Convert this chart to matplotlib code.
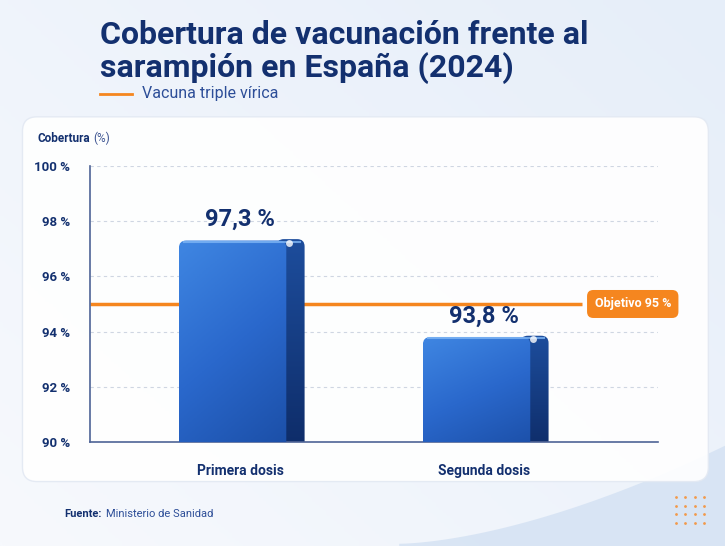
import numpy as np
import matplotlib
matplotlib.use("Agg")
import matplotlib.pyplot as plt
from matplotlib.patches import FancyBboxPatch

plt.rcParams['font.family'] = ['Roboto', 'DejaVu Sans']

# data
categories = ["Primera dosis", "Segunda dosis"]
coverage = [97.3, 93.8]
value_labels = ["97,3 %", "93,8 %"]
target = 95
target_label = "Objetivo 95 %"
yticks = [90, 92, 94, 96, 98, 100]
ytick_labels = ["90 %", "92 %", "94 %", "96 %", "98 %", "100 %"]

navy = "#13306f"
orange = "#f5861f"
axis_col = "#4e6496"

fig = plt.figure(figsize=(7.25, 5.46), dpi=100)

# background
bg = fig.add_axes([0, 0, 1, 1], zorder=-10)
bg.set_xlim(0, 1)
bg.set_ylim(0, 1)
bg.axis("off")
GX, GY = np.meshgrid(np.linspace(0, 1, 200), np.linspace(0, 1, 200))
grad = 0.55 * GX + 0.45 * (1 - GY)
cmap = matplotlib.colors.LinearSegmentedColormap.from_list("bg", ["#f7f9fd", "#e6eef9"])
bg.imshow(grad, extent=[0, 1, 0, 1], origin="upper", cmap=cmap, aspect="auto")
# bottom-right swoosh
sx = np.linspace(0.55, 1, 50)
bg.fill_between(sx, 0, 0.005 + 0.18 * ((sx - 0.55) / 0.45) ** 1.6, color="#d3e1f3", alpha=0.8, lw=0)
# white card
card = FancyBboxPatch((0.031, 0.118), 0.946, 0.668,
                      boxstyle="round,pad=0,rounding_size=0.02",
                      mutation_aspect=725 / 546,
                      fc="white", ec="#e3e9f3", lw=1, alpha=0.92)
bg.add_patch(card)
# orange dots decoration
for i in range(4):
    for j in range(4):
        bg.scatter(0.933 + i * 0.0125, 0.09 - j * 0.016, s=4, color="#f2994a", lw=0)

# titles
fig.text(0.138, 0.936, "Cobertura de vacunación frente al", fontsize=23, fontweight="bold",
         color=navy, va="center", ha="left")
fig.text(0.138, 0.875, "sarampión en España (2024)", fontsize=23, fontweight="bold",
         color=navy, va="center", ha="left")
fig.add_artist(plt.Line2D([0.138, 0.182], [0.828, 0.828], color=orange, lw=2, transform=fig.transFigure))
fig.text(0.196, 0.828, "Vacuna triple vírica", fontsize=11.5, color="#2d4e98", va="center", ha="left")

fig.text(0.052, 0.747, "Cobertura", fontsize=8.5, fontweight="bold", color=navy, va="center", ha="left")
fig.text(0.129, 0.747, "(%)", fontsize=8.5, color="#3e5592", va="center", ha="left")

fig.text(0.088, 0.059, "Fuente:", fontsize=8, fontweight="bold", color=navy, va="center", ha="left")
fig.text(0.146, 0.059, "Ministerio de Sanidad", fontsize=8, color="#2d4e98", va="center", ha="left")

# main chart
ax = fig.add_axes([0.124, 0.1905, 0.7834, 0.5055])
ax.set_xlim(-0.615, 1.713)
ax.set_ylim(90, 100)
ax.patch.set_alpha(0)
for s in ["top", "right"]:
    ax.spines[s].set_visible(False)
for s in ["left", "bottom"]:
    ax.spines[s].set_color(axis_col)
    ax.spines[s].set_linewidth(1.2)
ax.set_yticks(yticks)
ax.set_yticklabels(ytick_labels, fontsize=9.5, fontweight="bold", color=navy)
ax.tick_params(axis="y", length=0, pad=14)
ax.set_xticks(range(len(categories)))
ax.set_xticklabels(categories, fontsize=10, fontweight="bold", color=navy)
ax.tick_params(axis="x", length=0, pad=16)
for t in yticks[1:]:
    ax.axhline(t, color="#cfd6e2", lw=0.8, ls=(0, (3, 3)), zorder=0)

aspect = (10 / 276) / (2.328 / 568)
front_cmap = matplotlib.colors.LinearSegmentedColormap.from_list("fr", ["#1b4ea6", "#2a68cc", "#3f86e2"])
side_cmap = matplotlib.colors.LinearSegmentedColormap.from_list("sd", ["#0e2c68", "#1d4d9c"])
bottom = 89.65
for i, v in enumerate(coverage):
    x0 = i - 0.25
    w_front = 0.44
    w_side = 0.075
    # side face
    side = FancyBboxPatch((x0 + w_front - 0.04, bottom), w_side + 0.04, v - bottom + 0.05,
                          boxstyle="round,pad=0,rounding_size=0.03", mutation_aspect=aspect,
                          fc="none", ec="none", clip_on=False)
    ax.add_patch(side)
    im = ax.imshow(np.linspace(0, 1, 100).reshape(-1, 1) * np.ones((1, 5)),
                   extent=[x0 + w_front - 0.04, x0 + w_front + w_side, bottom, v + 0.05],
                   origin="lower", cmap=side_cmap, aspect="auto", zorder=2)
    im.set_clip_path(side)
    # front face
    front = FancyBboxPatch((x0, bottom), w_front, v - bottom,
                           boxstyle="round,pad=0,rounding_size=0.03", mutation_aspect=aspect,
                           fc="none", ec="none", clip_on=False, zorder=4)
    ax.add_patch(front)
    yy, xx = np.mgrid[0:1:100j, 0:1:60j]
    im2 = ax.imshow(0.7 * yy + 0.3 * (1 - xx), extent=[x0, x0 + w_front, bottom, v],
                    origin="lower", cmap=front_cmap, aspect="auto", zorder=3)
    im2.set_clip_path(front)
    # top highlight
    ax.plot([x0 + 0.02, x0 + w_front + w_side - 0.02], [v - 0.04, v - 0.04],
            color="#7fb6f5", lw=1.5, alpha=0.8, zorder=5)
    ax.scatter(x0 + w_front + 0.01, v - 0.08, s=25, color="white", alpha=0.8, zorder=6, lw=0)
    ax.text(i, v + 0.35, value_labels[i], ha="center", va="bottom", fontsize=17,
            fontweight="bold", color=navy)

# target line and badge
ax.plot([-0.615, 1.40], [target, target], color=orange, lw=2.5, zorder=1, solid_capstyle="butt")
ax.text(1.61, target, target_label, ha="center", va="center", fontsize=9, fontweight="bold",
        color="white", zorder=6, clip_on=False,
        bbox=dict(boxstyle="round,pad=0.6,rounding_size=0.5", fc=orange, ec="none"))

ax.set_xlim(-0.615, 1.713)
ax.set_ylim(90, 100)

fig.savefig("out.png", dpi=100)
